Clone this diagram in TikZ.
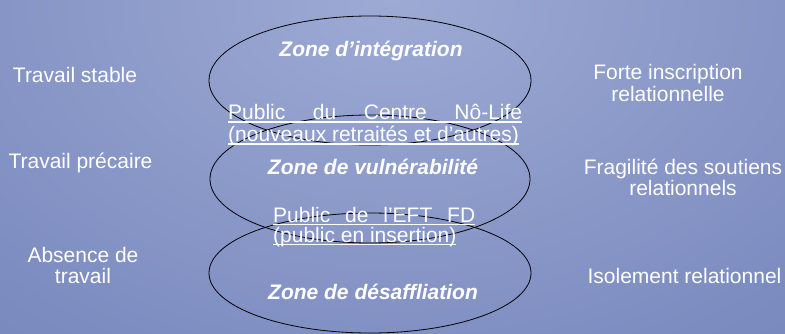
\documentclass[tikz,border=0pt]{standalone}
\usepackage{fontspec}
\setmainfont{Liberation Sans}
\definecolor{bgA}{RGB}{157,170,212}
\definecolor{bgB}{RGB}{112,128,184}
\definecolor{bgC}{RGB}{84,102,165}
\definecolor{bgD}{RGB}{62,80,147}
\pgfdeclareradialshading{bgshade}{\pgfpoint{0bp}{0bp}}{color(0bp)=(bgA); color(31.6bp)=(bgB); color(38.7bp)=(bgC); color(50bp)=(bgD)}
\newlength\wullen
\newcommand\wul[1]{\settowidth\wullen{#1}\rlap{\rule[-3pt]{\wullen}{1.5pt}}#1}
\lineskiplimit=-200pt
\begin{document}
\begin{tikzpicture}[x=1pt,y=-1pt,
  lbl/.style={text=white, inner sep=0pt, font=\fontsize{21}{21.5}\selectfont},
  zonetxt/.style={text=white, inner sep=0pt, font=\fontsize{21}{22}\selectfont\bfseries\itshape},
  zoneline/.style={draw=black, line width=0.8pt}]
\useasboundingbox (0,0) rectangle (785,334);
\begin{scope}
\clip (0,0) rectangle (785,334);
\shade[shading=bgshade] (392,0) ellipse [x radius=620pt, y radius=434pt];
\end{scope}
% zones
\coordinate (e1) at (370,80.5);
\coordinate (e2) at (370,179);
\coordinate (e3) at (370,273);
\draw[zoneline] (e1) ellipse [x radius=161pt, y radius=64.5pt];
\draw[zoneline] (e2) ellipse [x radius=160pt, y radius=64pt];
\draw[zoneline] (e3) ellipse [x radius=161pt, y radius=60pt];
\node[zonetxt, anchor=base] (z1) at (371,57) {Zone d’intégration};
\node[zonetxt, anchor=base] (z2) at (373,175) {Zone de vulnérabilité};
\node[zonetxt, anchor=base] (z3) at (373,299) {Zone de désaffliation};
% publics (base anchor = baseline of last line)
\node[lbl, align=left, anchor=base west, font=\fontsize{21}{22}\selectfont] (pub1) at (228,142)
  {\wul{\makebox[294pt][s]{Public du Centre Nô-Life}}\\\wul{(nouveaux retraités et d’autres)}};
\node[lbl, align=left, anchor=base west, font=\fontsize{21}{20}\selectfont] (pub2) at (273,242)
  {\wul{\makebox[202pt][s]{Public de l’EFT FD}}\\\wul{(public en insertion)}};
% left column
\node[lbl, anchor=base] (w1) at (75,83) {Travail stable};
\node[lbl, anchor=base] (w2) at (80.5,168) {Travail précaire};
\node[lbl, anchor=base, align=center, font=\fontsize{21}{20.5}\selectfont] (w3) at (83,283) {Absence de\\travail};
% right column
\node[lbl, anchor=base, align=center, font=\fontsize{21}{22}\selectfont] (r1) at (668,102) {Forte inscription\\relationnelle};
\node[lbl, anchor=base, align=center, font=\fontsize{21}{21}\selectfont] (r2) at (683,196) {Fragilité des soutiens\\relationnels};
\node[lbl, anchor=base] (r3) at (684.5,283) {Isolement relationnel};
\end{tikzpicture}
\end{document}
